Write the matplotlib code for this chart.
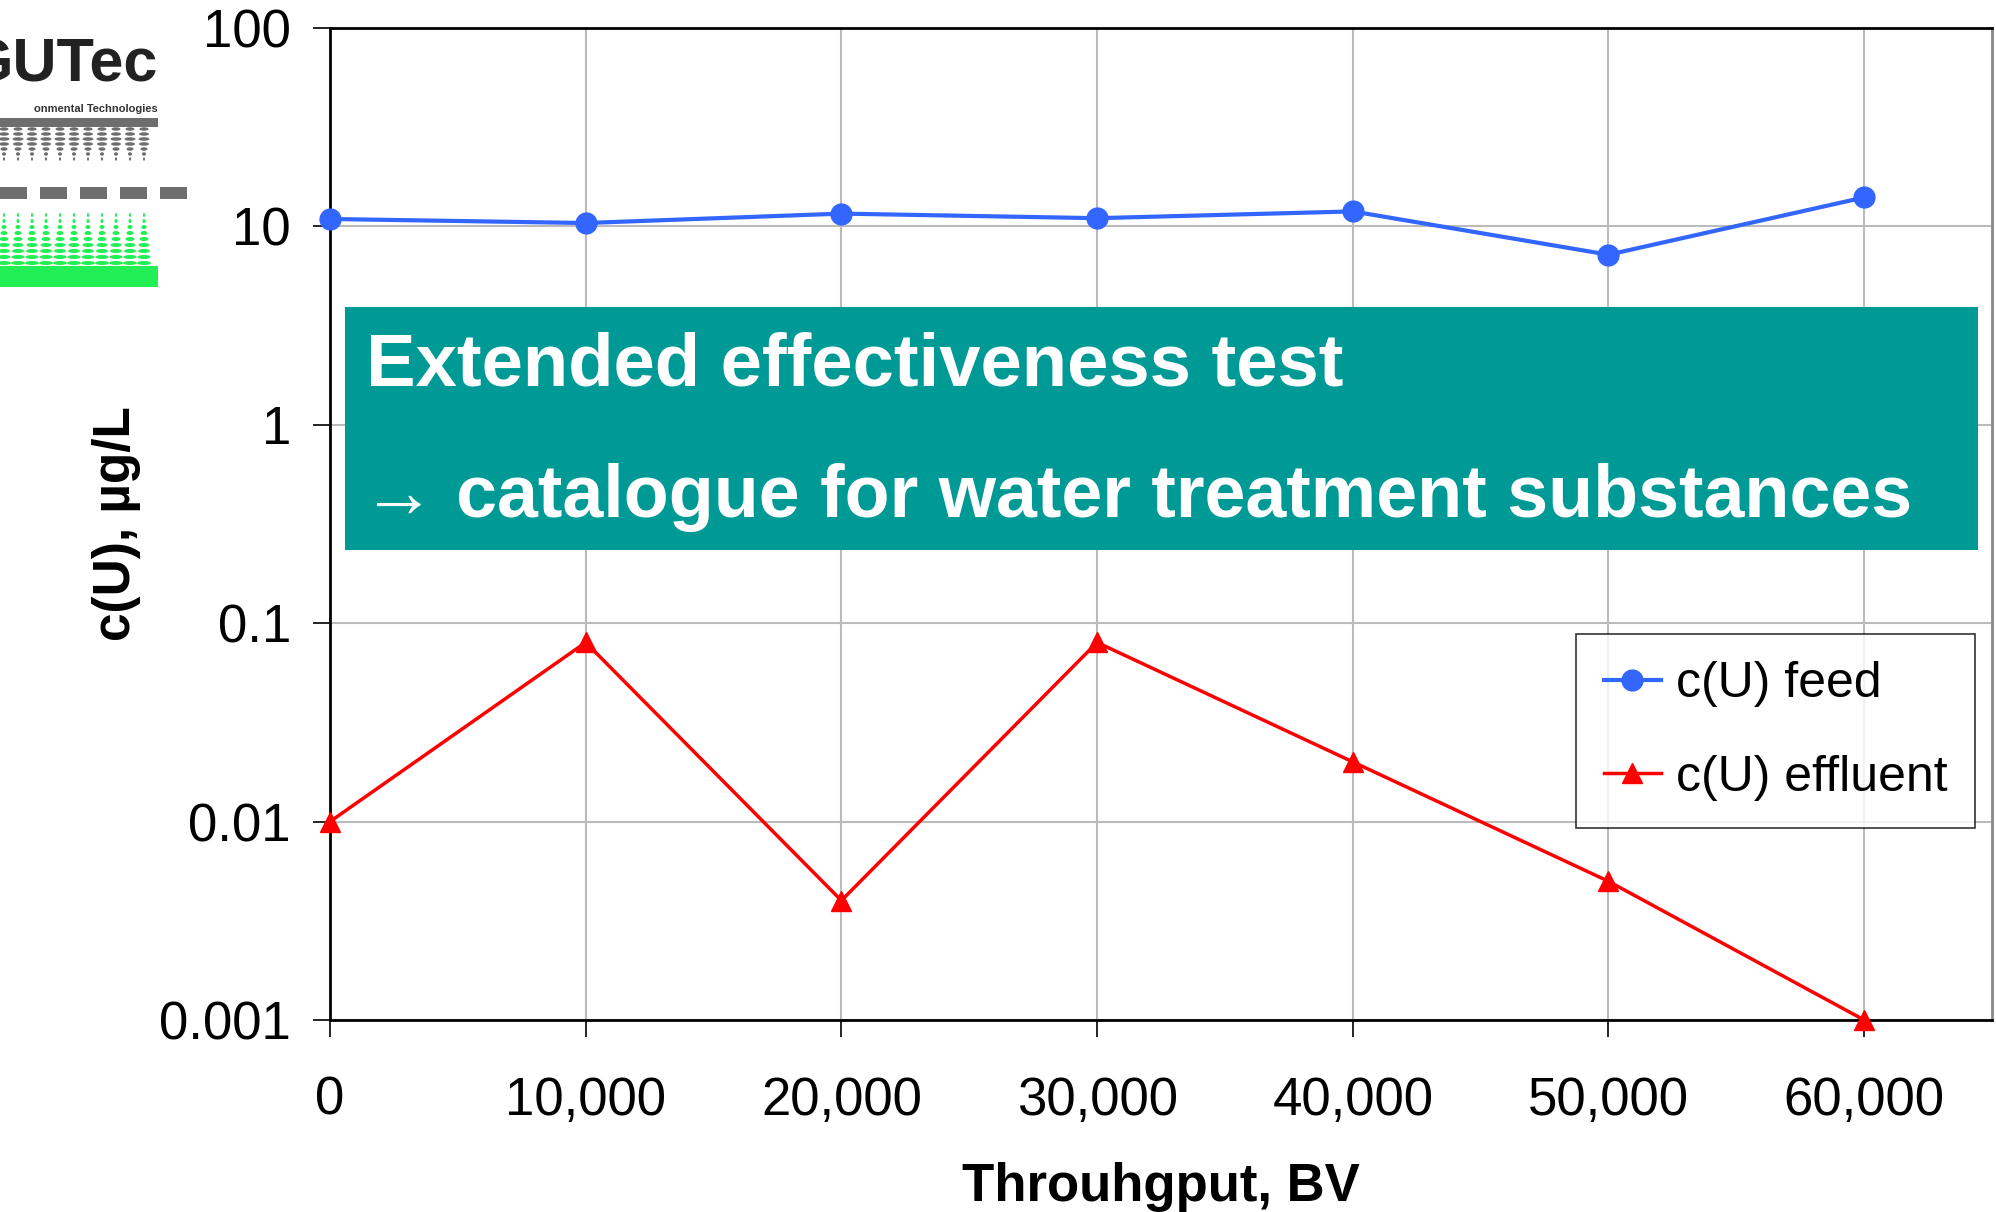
import matplotlib
matplotlib.use("Agg")
import matplotlib.pyplot as plt
import numpy as np
from matplotlib.patches import Rectangle, Ellipse

throughput = [0, 10000, 20000, 30000, 40000, 50000, 60000]
feed = [10.9, 10.4, 11.6, 11.0, 11.9, 7.2, 14.0]
effluent = [0.01, 0.08, 0.004, 0.08, 0.02, 0.005, 0.001]
y_ticks = [0.001, 0.01, 0.1, 1, 10, 100]
y_labels = ["0.001", "0.01", "0.1", "1", "10", "100"]
x_ticks = [0, 10000, 20000, 30000, 40000, 50000, 60000]

plt.rcParams["font.family"] = ["Liberation Sans", "DejaVu Sans"]

W, H = 1996, 1212
fig = plt.figure(figsize=(W / 100, H / 100), dpi=100)

# main axes, placed in pixel terms
l, r, t, b = 330, 1992, 28, 1020
ax = fig.add_axes([l / W, 1 - b / H, (r - l) / W, (b - t) / H])
ax.set_yscale("log")
ax.set_xlim(0, 65000)
ax.set_ylim(0.001, 100)

ax.plot(throughput, feed, color="#3366FF", lw=3, marker="o", ms=15,
        label="c(U) feed", zorder=3, clip_on=False)
ax.plot(throughput, effluent, color="#FF0000", lw=2.5, marker="^", ms=14,
        label="c(U) effluent", zorder=3, clip_on=False)

ax.set_yticks(y_ticks)
ax.set_yticklabels(y_labels)
ax.yaxis.set_minor_locator(matplotlib.ticker.NullLocator())
ax.set_xticks(x_ticks)
ax.set_xticklabels([f"{v:,}" for v in x_ticks])
ax.tick_params(axis="both", labelsize=38, length=12, width=1.2, direction="out",
               colors="black")
ax.tick_params(axis="y", pad=16)
ax.tick_params(axis="x", pad=28)
ax.grid(True, color="#BBBBBB", lw=1.5)
ax.set_axisbelow(True)
for side in ["left", "bottom", "top"]:
    ax.spines[side].set_linewidth(2)
    ax.spines[side].set_color("black")
ax.spines["right"].set_color("#888888")
ax.spines["right"].set_linewidth(2)

ax.set_xlabel("Throuhgput, BV", fontsize=38, fontweight="bold", labelpad=26)
ax.set_ylabel("c(U), µg/L", fontsize=37, fontweight="bold", labelpad=13)

leg = ax.legend(loc="upper left", bbox_to_anchor=((1576 - l) / (r - l), 1 - (634 - t) / (b - t)),
                borderaxespad=0, fontsize=36, frameon=True, fancybox=False,
                edgecolor="black", handlelength=1.15, labelspacing=0.95,
                borderpad=0.55, handletextpad=0.3)
leg.get_frame().set_linewidth(1.2)

# teal banner
bx0, bx1, by0, by1 = 345, 1978, 307, 550
fig.patches.append(Rectangle((bx0 / W, 1 - by1 / H), (bx1 - bx0) / W, (by1 - by0) / H,
                             transform=fig.transFigure, facecolor="#009A96",
                             edgecolor="none", zorder=5))
fig.text(366 / W, 1 - 366 / H, "Extended effectiveness test", color="white",
         fontsize=53.5, fontweight="bold", va="center", ha="left", zorder=6)
fig.text(362 / W, 1 - 497 / H, "→ catalogue for water treatment substances",
         color="white", fontsize=53, fontweight="bold", va="center", ha="left",
         zorder=6)

# logo in the top left corner
lg = fig.add_axes([0, 1 - 300 / H, 210 / W, 300 / H])
lg.set_xlim(0, 210)
lg.set_ylim(300, 0)
lg.axis("off")
lg.text(158, 82, "GUTec", fontsize=44, fontweight="bold", ha="right", va="baseline",
        color="#222222", clip_on=True)
lg.text(158, 112, "onmental Technologies", fontsize=8, fontweight="bold",
        ha="right", va="baseline", color="#333333", clip_on=True)
gx = np.arange(4, 158, 14)
# gray halftone
lg.add_patch(Rectangle((0, 118), 158, 9, color="#6E6E6E", lw=0))
gray_rows = [(129, 9), (134, 10), (139, 11), (144, 10), (149, 7), (154, 4), (159, 2)]
for yy, w in gray_rows:
    for xx in gx:
        lg.add_patch(Ellipse((xx, yy), w, 3.5, color="#6E6E6E", lw=0))
# dashed bar
for x0 in np.arange(0, 200, 40):
    lg.add_patch(Rectangle((x0, 187), 27, 12, color="#6E6E6E", lw=0))
# green halftone
green_rows = [(215, 2), (221, 3), (227, 5), (233, 7), (239, 9), (245, 11),
              (251, 12), (257, 13), (263, 14)]
for yy, w in green_rows:
    for xx in gx:
        lg.add_patch(Ellipse((xx, yy), w, 4, color="#22EE55", lw=0))
lg.add_patch(Rectangle((0, 266), 158, 21, color="#22EE55", lw=0))

fig.savefig("out.png", dpi=100)
